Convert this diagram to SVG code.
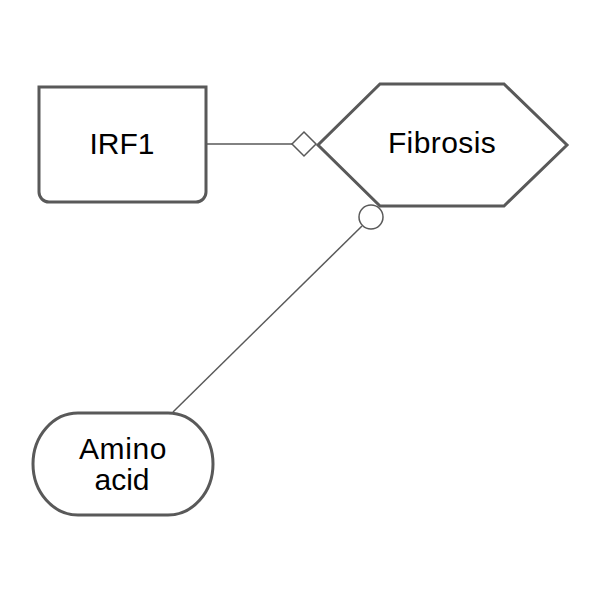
<svg xmlns="http://www.w3.org/2000/svg" width="600" height="600" viewBox="0 0 600 600">
<style>
.node{fill:#fff;stroke:#595959;stroke-width:3}
.edge{fill:none;stroke:#595959;stroke-width:1.5}
.glyph{fill:#fff;stroke:#595959;stroke-width:1.5}
text{font-family:"Liberation Sans",Arial,sans-serif;font-size:30px;fill:#000;text-anchor:middle}
</style>
<rect width="600" height="600" fill="#fff"/>
<g id="connectors">
<line class="edge" x1="207" y1="144" x2="292" y2="144"/>
<path class="glyph" d="M292 144 L304 132 L316 144 L304 156 Z"/>
<line class="edge" x1="173" y1="412" x2="362" y2="226"/>
<circle class="glyph" cx="371" cy="217" r="12"/>
</g>
<g id="IRF1">
<path class="node" d="M39 87 H206 V192 A10 10 0 0 1 196 202 H49 A10 10 0 0 1 39 192 Z"/>
<text x="122" y="154">IRF1</text>
</g>
<g id="Fibrosis">
<path class="node" d="M380 84 H504 L567 145 L504 206 H380 L318 145 Z"/>
<text x="442" y="153" letter-spacing="0.4">Fibrosis</text>
</g>
<g id="Amino_acid">
<rect class="node" x="33" y="413" width="180" height="102" rx="45" ry="51"/>
<text x="123" y="459" letter-spacing="0.6">Amino</text>
<text x="122" y="490">acid</text>
</g>
</svg>
